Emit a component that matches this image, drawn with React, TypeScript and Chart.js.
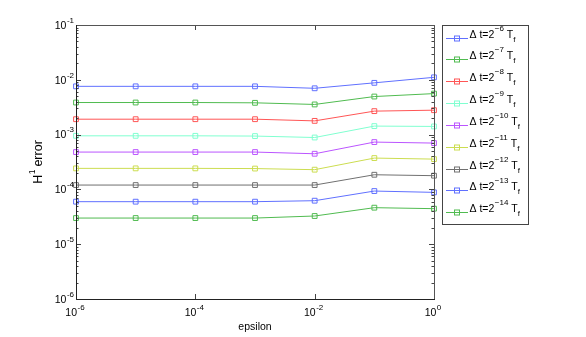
import React, { useEffect, useRef } from "react";
import { Chart, registerables } from "chart.js";

Chart.register(...registerables);

// ---------------- data ----------------
const epsilonValues = [1e-6, 1e-5, 1e-4, 1e-3, 1e-2, 1e-1, 1];
const dtExponents = [-6, -7, -8, -9, -10, -11, -12, -13, -14];

const err6 = [7.6e-3, 7.6e-3, 7.6e-3, 7.6e-3, 7.0e-3, 8.8e-3, 1.11e-2];
const err7 = [3.85e-3, 3.85e-3, 3.85e-3, 3.8e-3, 3.55e-3, 4.95e-3, 5.6e-3];
const err8 = [1.91e-3, 1.91e-3, 1.91e-3, 1.91e-3, 1.78e-3, 2.68e-3, 2.79e-3];
const err9 = [9.5e-4, 9.5e-4, 9.5e-4, 9.4e-4, 8.85e-4, 1.43e-3, 1.41e-3];
const err10 = [4.8e-4, 4.8e-4, 4.8e-4, 4.8e-4, 4.47e-4, 7.3e-4, 7.0e-4];
const err11 = [2.42e-4, 2.42e-4, 2.42e-4, 2.4e-4, 2.29e-4, 3.73e-4, 3.57e-4];
const err12 = [1.2e-4, 1.2e-4, 1.2e-4, 1.2e-4, 1.2e-4, 1.85e-4, 1.78e-4];
const err13 = [5.97e-5, 5.97e-5, 5.97e-5, 5.97e-5, 6.22e-5, 9.33e-5, 8.83e-5];
const err14 = [3.0e-5, 3.0e-5, 3.0e-5, 3.0e-5, 3.27e-5, 4.64e-5, 4.45e-5];

const seriesValues = [err6, err7, err8, err9, err10, err11, err12, err13, err14];
const seriesColors = [
  "#6070ff",
  "#50bb50",
  "#ff5555",
  "#80ffd0",
  "#bb55ff",
  "#ccdd50",
  "#707070",
  "#6070ff",
  "#50bb50",
];

const xMajorExps = [-6, -4, -2, 0];
const yMajorExps = [-6, -5, -4, -3, -2, -1];

const FONT = '"Liberation Sans", Arial, Helvetica, sans-serif';

function font(size: number) {
  return `${size}px ${FONT}`;
}

function drawPowLabel(
  ctx: CanvasRenderingContext2D,
  exp: number,
  x: number,
  y: number,
  align: "center" | "right"
) {
  const base = "10";
  const ex = String(exp);
  ctx.font = font(10.5);
  const wb = ctx.measureText(base).width;
  ctx.font = font(8);
  const we = ctx.measureText(ex).width;
  const total = wb + we + 0.5;
  const start = align === "center" ? x - total / 2 - 1 : x - total;
  ctx.textAlign = "left";
  ctx.textBaseline = "middle";
  ctx.fillStyle = "#000";
  ctx.font = font(10.5);
  ctx.fillText(base, start, y);
  ctx.font = font(8);
  ctx.fillText(ex, start + wb + 0.5, y - 5.5);
}

const axesPlugin = {
  id: "matlabAxes",
  afterDraw(chart: any) {
    const ctx: CanvasRenderingContext2D = chart.ctx;
    const xs = chart.scales.x;
    const ys = chart.scales.y;
    const { left, right, top, bottom } = chart.chartArea;
    ctx.save();

    // ticks
    ctx.lineWidth = 1;
    ctx.strokeStyle = "#444";
    for (let e = -6; e <= -1; e++) {
      const py = Math.round(ys.getPixelForValue(Math.pow(10, e))) + 0.5;
      ctx.beginPath();
      ctx.moveTo(left, py);
      ctx.lineTo(left + 5, py);
      ctx.moveTo(right, py);
      ctx.lineTo(right - 5, py);
      ctx.stroke();
      if (e < -1) {
        for (let m = 2; m <= 9; m++) {
          const pm = Math.round(ys.getPixelForValue(m * Math.pow(10, e))) + 0.5;
          ctx.beginPath();
          ctx.moveTo(left, pm);
          ctx.lineTo(left + 2.5, pm);
          ctx.moveTo(right, pm);
          ctx.lineTo(right - 2.5, pm);
          ctx.stroke();
        }
      }
    }
    for (const e of xMajorExps) {
      const px = Math.round(xs.getPixelForValue(Math.pow(10, e))) + 0.5;
      ctx.beginPath();
      ctx.moveTo(px, bottom);
      ctx.lineTo(px, bottom - 5);
      ctx.moveTo(px, top);
      ctx.lineTo(px, top + 5);
      ctx.stroke();
    }

    // frame
    ctx.strokeStyle = "#555";
    ctx.lineWidth = 1;
    ctx.strokeRect(Math.round(left) + 0.5, Math.round(top) + 0.5, Math.round(right - left), Math.round(bottom - top));
    ctx.strokeStyle = "#222";
    ctx.beginPath();
    ctx.moveTo(Math.round(left) + 0.5, Math.round(top));
    ctx.lineTo(Math.round(left) + 0.5, Math.round(bottom) + 0.5);
    ctx.lineTo(Math.round(right) + 1, Math.round(bottom) + 0.5);
    ctx.stroke();

    // tick labels
    for (const e of yMajorExps) {
      const py = ys.getPixelForValue(Math.pow(10, e));
      drawPowLabel(ctx, e, left - 2, py + 1, "right");
    }
    for (const e of xMajorExps) {
      const px = xs.getPixelForValue(Math.pow(10, e));
      drawPowLabel(ctx, e, px, bottom + 14.5, "center");
    }

    // axis titles
    ctx.fillStyle = "#000";
    ctx.font = font(10.5);
    ctx.textAlign = "center";
    ctx.textBaseline = "middle";
    ctx.fillText("epsilon", (left + right) / 2, bottom + 28);

    ctx.save();
    ctx.translate(39, (top + bottom) / 2);
    ctx.rotate(-Math.PI / 2);
    ctx.font = font(12.5);
    const wH = ctx.measureText("H").width;
    const wErr = ctx.measureText(" error").width;
    ctx.font = font(8.5);
    const w1 = ctx.measureText("1").width;
    const tot = wH + w1 + wErr;
    const sx = -tot / 2;
    ctx.textAlign = "left";
    ctx.font = font(12.5);
    ctx.fillText("H", sx, 0);
    ctx.font = font(8.5);
    ctx.fillText("1", sx + wH + 0.5, -6);
    ctx.font = font(12.5);
    ctx.fillText(" error", sx + wH + w1, 0);
    ctx.restore();

    // legend
    const lx = 442.5;
    const ly = 25.5;
    const lw = 86;
    const lh = 199;
    ctx.fillStyle = "#fff";
    ctx.fillRect(lx, ly, lw, lh);
    ctx.strokeStyle = "#444";
    ctx.lineWidth = 1;
    ctx.strokeRect(lx, ly, lw, lh);
    const datasets = chart.data.datasets;
    for (let i = 0; i < datasets.length; i++) {
      const ds = datasets[i];
      const rowY = Math.round(37.5 + i * 21.85) + 0.5;
      ctx.strokeStyle = ds.borderColor;
      ctx.beginPath();
      ctx.moveTo(446, rowY);
      ctx.lineTo(468, rowY);
      ctx.stroke();
      ctx.strokeRect(454.5, rowY - 2.5, 5, 5);
      ctx.fillStyle = "#000";
      ctx.textAlign = "left";
      ctx.textBaseline = "middle";
      let tx = 469.5;
      const ty = rowY - 3.5;
      ctx.font = font(10.5);
      ctx.fillText("\u0394 t=2", tx, ty);
      tx += ctx.measureText("\u0394 t=2").width;
      ctx.font = font(8);
      const ex = String(dtExponents[i]).replace("-", "\u2212");
      ctx.fillText(ex, tx + 0.5, ty - 6.5);
      tx += ctx.measureText(ex).width + 0.5;
      ctx.font = font(10.5);
      ctx.fillText(" T", tx, ty);
      tx += ctx.measureText(" T").width;
      ctx.font = font(8);
      ctx.fillText("f", tx, ty + 4.5);
    }
    ctx.restore();
  },
};

export default function App() {
  const canvasRef = useRef<HTMLCanvasElement | null>(null);

  useEffect(() => {
    if (!canvasRef.current) return;
    const datasets = seriesValues.map((vals, i) => ({
      label: `dt=2^${dtExponents[i]} Tf`,
      data: epsilonValues.map((x, j) => ({ x, y: vals[j] })),
      borderColor: seriesColors[i],
      backgroundColor: "rgba(0,0,0,0)",
      borderWidth: 1,
      pointStyle: "rect",
      pointRadius: 3.4,
      pointBorderWidth: 1,
      pointBorderColor: seriesColors[i],
      pointBackgroundColor: "rgba(0,0,0,0)",
      tension: 0,
      clip: false,
    }));
    const chart = new Chart(canvasRef.current, {
      type: "line",
      data: { datasets } as any,
      options: {
        animation: false,
        responsive: false,
        devicePixelRatio: 1,
        layout: { padding: { left: 76, right: 152, top: 25, bottom: 38 } },
        plugins: { legend: { display: false }, tooltip: { enabled: false } },
        scales: {
          x: { type: "logarithmic", min: 1e-6, max: 1, display: false },
          y: { type: "logarithmic", min: 1e-6, max: 1e-1, display: false },
        },
      } as any,
      plugins: [axesPlugin],
    });
    return () => chart.destroy();
  }, []);

  return (
    <div style={{ position: "fixed", left: 0, top: 0, width: 586, height: 337, background: "#fff" }}>
      <canvas ref={canvasRef} width={586} height={337} style={{ display: "block" }} />
    </div>
  );
}
